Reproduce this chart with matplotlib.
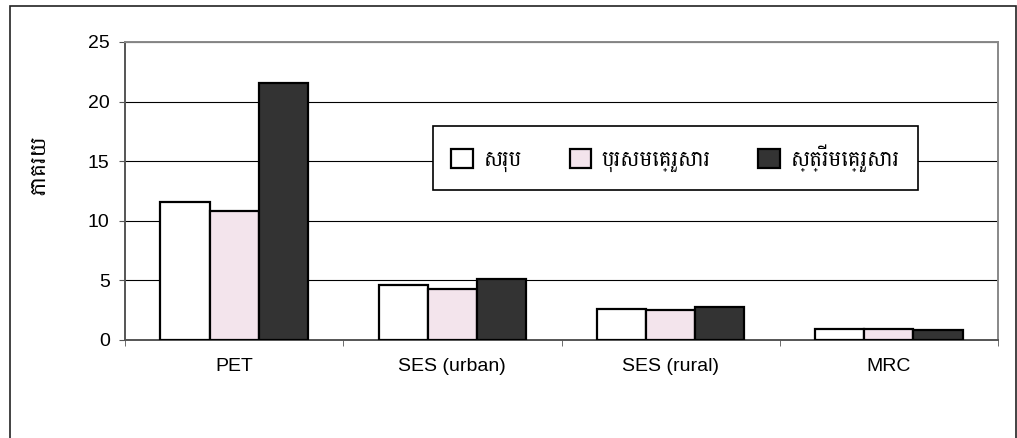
import matplotlib
matplotlib.use("Agg")
import matplotlib.pyplot as plt
import numpy as np
from matplotlib.patches import Rectangle

plt.rcParams['font.family'] = ['Liberation Sans', 'Battambang', 'DejaVu Sans']

categories = ["PET", "SES (urban)", "SES (rural)", "MRC"]
series_names = ["សរុប", "បុរសមេគ្រួសារ", "ស្ត្រីមេគ្រួសារ"]
total = [11.6, 4.6, 2.6, 0.92]
male_head = [10.8, 4.3, 2.55, 0.92]
female_head = [21.6, 5.1, 2.75, 0.84]
yticks = [0, 5, 10, 15, 20, 25]
ylabel = "ភាគរយ"

W, H = 1017, 438
fig = plt.figure(figsize=(W / 100, H / 100), dpi=100)
# outer chart-area border (bottom edge falls outside the picture)
fig.patches.append(Rectangle((10 / W, -5 / H), 1006 / W, (H - 6 + 5) / H,
                             transform=fig.transFigure, fill=False,
                             edgecolor="#222222", lw=1.2))
ax = fig.add_axes([125 / W, 1 - 340 / H, 873 / W, 298 / H])

x = np.arange(len(categories))
bw = 0.225
colors = ["white", "#f3e4ec", "#333333"]
for i, (vals, c) in enumerate(zip([total, male_head, female_head], colors)):
    ax.bar(x + (i - 1) * bw, vals, bw, color=c, edgecolor="black", lw=1.6,
           label=series_names[i], zorder=3)

ax.set_xlim(-0.5, len(categories) - 0.5)
ax.set_ylim(0, 25)
ax.set_yticks(yticks)
ax.yaxis.grid(True, color="black", lw=0.8, zorder=0)
ax.set_xticks(x)
ax.set_xticklabels(categories, fontsize=14)
ax.tick_params(axis="x", length=0, pad=13)
ax.set_xticks(np.arange(len(categories) + 1) - 0.5, minor=True)
ax.tick_params(axis="x", which="minor", length=4, color="#555555")
ax.tick_params(axis="y", length=4, labelsize=14, color="#555555", pad=7)
for s in ["left", "bottom"]:
    ax.spines[s].set_color("#555555")
    ax.spines[s].set_linewidth(1.4)
for s in ["top", "right"]:
    ax.spines[s].set_color("#888888")
    ax.spines[s].set_linewidth(1.4)
ax.set_ylabel(ylabel, fontsize=16)
ax.yaxis.set_label_coords((50 - 125) / 873, (340 - 165) / 298)

leg = ax.legend(loc="center",
                bbox_to_anchor=((433 - 125) / 873, 1 - (189 - 42) / 298,
                                (918 - 433) / 873, (189 - 127) / 298),
                ncol=3, frameon=True, fancybox=False, fontsize=15.5, mode="expand",
                handlelength=1.0, handleheight=1.0, handletextpad=0.5,
                borderpad=0.85, borderaxespad=0, framealpha=1)
leg.get_frame().set_edgecolor("black")
leg.get_frame().set_linewidth(1.2)
leg.set_zorder(5)

fig.savefig("out.png", dpi=100)
